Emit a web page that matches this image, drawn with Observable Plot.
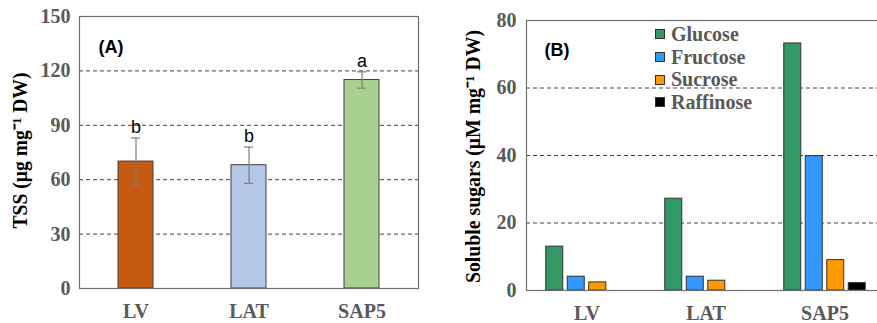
<!DOCTYPE html>
<html>
<head>
<meta charset="utf-8">
<script src="https://cdn.jsdelivr.net/npm/d3@7"></script>
<script src="https://cdn.jsdelivr.net/npm/@observablehq/plot@0.6"></script>
<style>
  html, body { margin: 0; padding: 0; background: #fff; }
  #wrap { position: relative; width: 877px; height: 323px; overflow: hidden; background: #fff; }
  #wrap > .panel { position: absolute; top: 0; }
  .legend { position: absolute; left: 655px; top: 23px; font: bold 20px "Liberation Serif", "Times New Roman", serif; color: #595959; }
  .legend .row { height: 22.7px; display: flex; align-items: center; }
  .legend .sw { width: 8px; height: 8px; border: 1px solid #333; margin-right: 6px; }
  svg.panel g[aria-label*="axis"] text, svg.panel g[aria-label*="tick"] text { font-size: 20px !important; font-weight: bold; font-family: "Liberation Serif", "Times New Roman", serif; fill: #595959; }
</style>
</head>
<body>
<div id="wrap"></div>
<script>
// ---- data ----
const groups = ["LV", "LAT", "SAP5"];
// Panel A: total soluble sugars
const tss = [70, 68, 115];
const tssErr = [13, 10, 4.5];
const tssLetters = ["b", "b", "a"];
const tssColors = ["#C55A11", "#B4C7E7", "#A9D18E"];
const tssTicks = [0, 30, 60, 90, 120, 150];
const tssLabel = "TSS (μg mg⁻¹ DW)";
// Panel B: soluble sugars
const sugars = ["Glucose", "Fructose", "Sucrose", "Raffinose"];
const glucose = [13, 27.2, 73.2];
const fructose = [4.1, 4.1, 39.8];
const sucrose = [2.4, 2.9, 9.0];
const raffinose = [0, 0, 2.2];
const sugarColors = ["#339966", "#3399FF", "#FF9900", "#000000"];
const sugarTicks = [0, 20, 40, 60, 80];
const sugarLabel = "Soluble sugars (μM mg⁻¹ DW)";

const serif = '"Liberation Serif", "Times New Roman", serif';
const sans = '"Liberation Sans", Arial, sans-serif';
const wrap = document.getElementById("wrap");

function fitLabel(svg, label, len) {
  svg.querySelectorAll("text").forEach(t => {
    if (t.textContent === label) {
      t.setAttribute("textLength", len);
      t.setAttribute("lengthAdjust", "spacingAndGlyphs");
    }
  });
}

// ---- Panel A ----
const tssData = groups.map((g, i) => ({group: g, v: tss[i], e: tssErr[i], letter: tssLetters[i], color: tssColors[i]}));
const plotA = Plot.plot({
  width: 430, height: 323,
  marginLeft: 79, marginRight: 12, marginTop: 16, marginBottom: 35,
  style: {fontFamily: serif, fontSize: "20px", fontWeight: "bold", color: "#595959", background: "transparent"},
  x: {domain: groups, paddingInner: 0.69, paddingOuter: 0.345, label: null, tickSize: 0, tickPadding: 15},
  y: {domain: [0, 150], ticks: tssTicks, label: null, tickSize: 0, tickPadding: 9},
  marks: [
    Plot.ruleY(tssTicks.slice(1, -1), {stroke: "#404040", strokeDasharray: "4,3", strokeWidth: 1}),
    Plot.barY(tssData, {x: "group", y: "v", fill: "color", stroke: "#404040", strokeWidth: 1}),
    Plot.ruleX(tssData, {x: "group", y1: d => d.v - d.e, y2: d => d.v + d.e, stroke: "#7f7f7f", strokeWidth: 1.2}),
    Plot.tickY(tssData, {x: "group", y: d => d.v + d.e, insetLeft: 13, insetRight: 13, stroke: "#7f7f7f", strokeWidth: 1.2}),
    Plot.tickY(tssData, {x: "group", y: d => d.v - d.e, insetLeft: 13, insetRight: 13, stroke: "#7f7f7f", strokeWidth: 1.2}),
    Plot.text(tssData, {x: "group", y: d => d.v + d.e, text: "letter", dy: -11, fontFamily: sans, fontWeight: "normal", fontSize: 18, fill: "#000"}),
    Plot.frame({stroke: "#6f6f6f", strokeWidth: 1.2}),
    Plot.text(["(A)"], {frameAnchor: "top-left", dx: 19, dy: 24, textAnchor: "start", fontFamily: sans, fontSize: 18, fontWeight: "bold", fill: "#000"}),
    Plot.text([tssLabel], {frameAnchor: "left", textAnchor: "middle", rotate: -90, dx: -59, dy: -2, fontFamily: serif, fontSize: 21, fontWeight: "bold", fill: "#000"})
  ]
});
fitLabel(plotA, tssLabel, 156);
plotA.classList.add("panel");
plotA.style.left = "0px";
wrap.appendChild(plotA);

// ---- Panel B ----
const seriesVals = [glucose, fructose, sucrose, raffinose];
const sugarMarks = sugars.map((s, k) => {
  const rows = groups.map((g, i) => ({group: g, v: seriesVals[k][i]})).filter(d => d.v > 0);
  return Plot.barY(rows, {x: "group", y: "v", dx: (k - 1.5) * 21.5, fill: sugarColors[k], stroke: "#333", strokeWidth: 1});
});
const plotB = Plot.plot({
  width: 445, height: 323,
  marginLeft: 86, marginRight: 0, marginTop: 20, marginBottom: 33,
  style: {fontFamily: serif, fontSize: "20px", fontWeight: "bold", color: "#595959", background: "transparent"},
  x: {domain: groups, paddingInner: 0.858, paddingOuter: 0.429, label: null, tickSize: 0, tickPadding: 15},
  y: {domain: [0, 80], ticks: sugarTicks, label: null, tickSize: 0, tickPadding: 10},
  marks: [
    Plot.ruleY(sugarTicks.slice(1, -1), {stroke: "#404040", strokeDasharray: "4,3", strokeWidth: 1}),
    ...sugarMarks,
    Plot.frame({stroke: "#6f6f6f", strokeWidth: 1.2}),
    Plot.text(["(B)"], {frameAnchor: "top-left", dx: 18, dy: 23, textAnchor: "start", fontFamily: sans, fontSize: 18, fontWeight: "bold", fill: "#000"}),
    Plot.text([sugarLabel], {frameAnchor: "left", textAnchor: "middle", rotate: -90, dx: -53, dy: 1, fontFamily: serif, fontSize: 21, fontWeight: "bold", fill: "#000"})
  ]
});
fitLabel(plotB, sugarLabel, 253);
plotB.classList.add("panel");
plotB.style.left = "440px";
wrap.appendChild(plotB);

// legend
const legend = document.createElement("div");
legend.className = "legend";
sugars.forEach((s, k) => {
  const row = document.createElement("div");
  row.className = "row";
  const sw = document.createElement("span");
  sw.className = "sw";
  sw.style.background = sugarColors[k];
  const t = document.createElement("span");
  t.textContent = s;
  row.appendChild(sw);
  row.appendChild(t);
  legend.appendChild(row);
});
wrap.appendChild(legend);
</script>
</body>
</html>
